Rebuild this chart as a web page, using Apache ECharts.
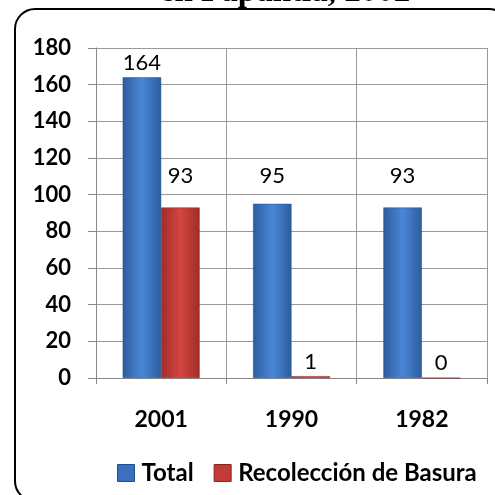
<!DOCTYPE html>
<html><head><meta charset="utf-8">
<script src="https://cdn.jsdelivr.net/npm/echarts@6/dist/echarts.min.js"></script>
<style>html,body{margin:0;padding:0;background:#fff}#c{width:495px;height:495px}</style>
</head><body><div id="c"></div>
<script>
var titleText = 'en Papantla, 2002';
var categories = ['2001', '1990', '1982'];
var seriesNames = ['Total', 'Recolección de Basura'];
var totalValues = [164, 95, 93];
var basuraValues = [93, 1, 0];
var yTicks = [0, 20, 40, 60, 80, 100, 120, 140, 160, 180];

// label distances (style, not data)
var totalLabelDist = [3, 17, 21];
var basuraLabelDist = [21, 3, 4];

function grad(dark, light) {
  return new echarts.graphic.LinearGradient(0, 0, 1, 0, [
    {offset: 0, color: dark}, {offset: 0.5, color: light}, {offset: 1, color: dark}
  ]);
}
var blue = grad('#2c5c9e', '#4a87d6');
var red = grad('#a02c2a', '#d4463f');

function mk(vals, dists) {
  return vals.map(function (v, i) {
    return {value: v, label: {distance: dists[i]}};
  });
}
var FONT = 'Lato';

var chart = echarts.init(document.getElementById('c'), null, {renderer: 'canvas'});
chart.setOption({
  animation: false,
  title: {
    text: titleText, left: 280, top: -29, textAlign: 'center',
    textStyle: {fontFamily: 'Liberation Serif', fontWeight: 'bold', fontSize: 33, color: '#000'}
  },
  graphic: [{
    type: 'rect', z: -1,
    shape: {x: 15, y: 9, width: 494, height: 492, r: 20},
    style: {fill: 'none', stroke: '#000', lineWidth: 2}
  }],
  legend: {
    top: 456, left: 112, itemWidth: 17, itemHeight: 17, itemGap: 20,
    textStyle: {fontFamily: FONT, fontWeight: 'bold', fontSize: 24, color: '#000', padding: [0, 0, 0, 2]},
    data: [{name: seriesNames[0], icon: 'rect', itemStyle: {color: '#3a70c0', borderColor: '#244d85', borderWidth: 1}},
           {name: seriesNames[1], icon: 'rect', itemStyle: {color: '#c43a36', borderColor: '#8a2220', borderWidth: 1}}]
  },
  grid: {left: 96, right: 8, top: 48, bottom: 117},
  xAxis: {
    type: 'category', data: categories,
    axisLine: {lineStyle: {color: '#888', width: 1}},
    axisTick: {show: true, length: 6, lineStyle: {color: '#888'}},
    splitLine: {show: true, lineStyle: {color: '#999', width: 1}},
    axisLabel: {margin: 30, fontFamily: FONT, fontWeight: 'bold', fontSize: 23, color: '#000'}
  },
  yAxis: {
    type: 'value', min: yTicks[0], max: yTicks[yTicks.length - 1], interval: 20,
    axisLine: {show: true, lineStyle: {color: '#888', width: 1}},
    axisTick: {show: true, length: 8, lineStyle: {color: '#888'}},
    splitLine: {show: true, lineStyle: {color: '#999', width: 1}},
    axisLabel: {margin: 25, fontFamily: FONT, fontWeight: 'bold', fontSize: 22, color: '#000'}
  },
  series: [{
    name: seriesNames[0], type: 'bar', data: mk(totalValues, totalLabelDist),
    barGap: '0%', barCategoryGap: '41%',
    itemStyle: {color: blue, borderColor: '#244d85', borderWidth: 0.5},
    label: {show: true, position: 'top', fontFamily: FONT, fontSize: 22, color: '#000'}
  }, {
    name: seriesNames[1], type: 'bar', data: mk(basuraValues, basuraLabelDist),
    itemStyle: {color: red, borderColor: '#8a2220', borderWidth: 0.5},
    label: {show: true, position: 'top', fontFamily: FONT, fontSize: 22, color: '#000'}
  }]
});
</script></body></html>
